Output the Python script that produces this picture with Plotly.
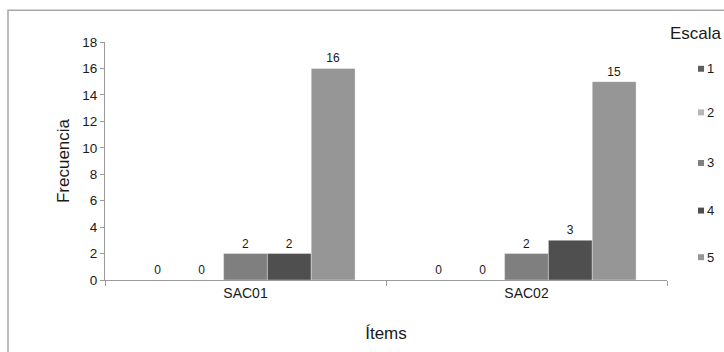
import plotly.graph_objects as go

# Frequency of each scale value per item
items = ["SAC01", "SAC02"]
scale_levels = ["1", "2", "3", "4", "5"]
freq_1 = [0, 0]
freq_2 = [0, 0]
freq_3 = [2, 2]
freq_4 = [2, 3]
freq_5 = [16, 15]
series_values = [freq_1, freq_2, freq_3, freq_4, freq_5]
bar_colors = ["#5f5f5f", "#b5b5b5", "#7f7f7f", "#4f4f4f", "#969696"]
y_ticks = [0, 2, 4, 6, 8, 10, 12, 14, 16, 18]

W, H = 724, 352
ML, MR, MT, MB = 105, 57, 42, 70
PW, PH = W - ML - MR, H - MT - MB


def px_x(x):
    return (x - ML) / PW


def px_y(y):
    return (H - MB - y) / PH


FONT = "Liberation Sans, Arial, sans-serif"
INK = "#1a1a1a"

fig = go.Figure()
for name, vals, col in zip(scale_levels, series_values, bar_colors):
    fig.add_trace(go.Bar(
        x=items, y=vals, name=name,
        marker=dict(color=col, line=dict(color="rgba(255,255,255,0.35)", width=1)),
        text=[str(v) for v in vals], textposition="outside",
        textfont=dict(family=FONT, size=12, color=INK),
        cliponaxis=False, showlegend=False,
    ))

shapes = [
    # outer chart frame
    dict(type="rect", xref="paper", yref="paper",
         x0=px_x(8), x1=px_x(760), y0=px_y(380), y1=px_y(10),
         line=dict(color="#a8a8a8", width=1.5), fillcolor="rgba(0,0,0,0)", layer="below"),
]
annotations = [
    dict(text="Escala", xref="paper", yref="paper", x=px_x(668), y=px_y(33),
         xanchor="left", yanchor="middle", showarrow=False,
         font=dict(family=FONT, size=17, color=INK)),
]
legend_rows = [69, 113, 164, 212, 259]
for name, col, yc in zip(scale_levels, bar_colors, legend_rows):
    shapes.append(dict(type="rect", xref="paper", yref="paper",
                       x0=px_x(698), x1=px_x(704), y0=px_y(yc + 3), y1=px_y(yc - 3),
                       line=dict(width=0), fillcolor=col))
    annotations.append(dict(text=name, xref="paper", yref="paper",
                            x=px_x(705), y=px_y(yc), xanchor="left", yanchor="middle",
                            showarrow=False, font=dict(family=FONT, size=13, color=INK)))

fig.update_layout(
    width=W, height=H,
    margin=dict(l=ML, r=MR, t=MT, b=MB),
    paper_bgcolor="white", plot_bgcolor="white",
    barmode="group", bargap=0.22, bargroupgap=0,
    font=dict(family=FONT, color=INK),
    shapes=shapes, annotations=annotations,
    showlegend=False,
)
fig.update_xaxes(
    showline=True, linecolor="#9a9a9a", linewidth=1,
    ticks="outside", ticklen=5, tickcolor="#9a9a9a", tickson="boundaries",
    tickfont=dict(family=FONT, size=14, color=INK),
    title=dict(text="Ítems", font=dict(family=FONT, size=17, color=INK), standoff=27),
    showgrid=False, zeroline=False,
)
fig.update_yaxes(
    range=[0, 18], tickvals=y_ticks,
    showline=True, linecolor="#9a9a9a", linewidth=1,
    ticks="outside", ticklen=4, tickcolor="#9a9a9a",
    tickfont=dict(family=FONT, size=13.5, color=INK),
    title=dict(text="Frecuencia", font=dict(family=FONT, size=17, color=INK), standoff=8),
    showgrid=False, zeroline=False,
)

fig.write_html("out.html")
